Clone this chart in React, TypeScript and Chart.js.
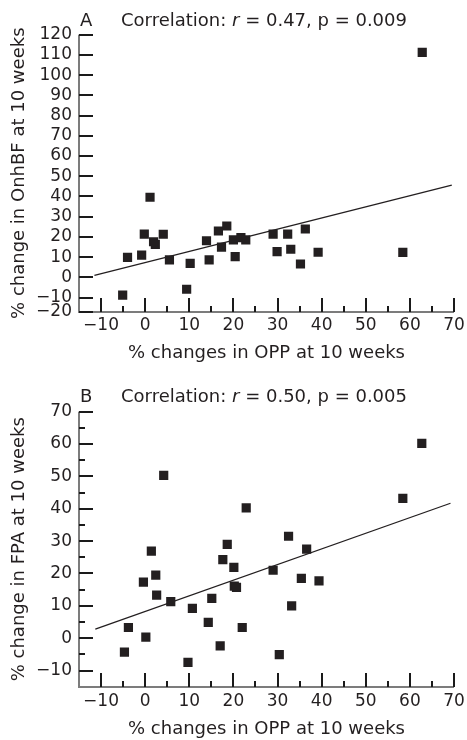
import React, { useEffect, useRef } from 'react';
import { Chart, registerables } from 'chart.js';

Chart.register(...registerables);

// ---------- Panel A data ----------
const OPP_A = [-5.1, -4.0, -0.8, -0.2, 1.1, 1.9, 2.3, 4.1, 5.5, 9.4, 10.2, 13.9, 14.5, 16.6, 17.3, 18.5, 20.0, 20.4, 21.7, 22.8, 29.0, 29.9, 32.3, 33.0, 35.2, 36.3, 39.2, 58.4, 62.8];
const ONHBF_A = [-8.8, 9.9, 11.0, 21.4, 39.6, 17.6, 16.3, 21.3, 8.6, -5.9, 6.9, 18.1, 8.6, 22.9, 14.9, 25.4, 18.5, 10.2, 19.6, 18.5, 21.4, 12.7, 21.4, 13.9, 6.6, 23.9, 12.4, 12.3, 111.3];
const FIT_X_A = [-11.5, 69.5];
const FIT_Y_A = [1.0, 45.6];
const Y_TICKS_A = [-20, -10, 0, 10, 20, 30, 40, 50, 60, 70, 80, 90, 100, 110, 120];
const Y_MINOR_A: number[] = [];
const LETTER_A = 'A';
const HEADER_A = ['Correlation: ', 'r', ' = 0.47, p = 0.009'];
const Y_TITLE_A = '% change in OnhBF at 10 weeks';

// ---------- Panel B data ----------
const OPP_B = [-4.7, -3.8, -0.4, 0.15, 1.4, 2.4, 2.6, 4.2, 5.8, 9.7, 10.7, 14.3, 15.1, 17.0, 17.6, 18.6, 20.1, 20.2, 20.7, 22.0, 22.9, 29.0, 30.4, 32.5, 33.2, 35.4, 36.6, 39.4, 58.4, 62.7];
const FPA_B = [-4.3, 3.3, 17.3, 0.3, 26.9, 19.5, 13.3, 50.3, 11.3, -7.5, 9.2, 4.9, 12.3, -2.4, 24.3, 29.0, 21.9, 16.1, 15.7, 3.3, 40.3, 21.0, -5.1, 31.5, 10.0, 18.5, 27.5, 17.7, 43.2, 60.2];
const FIT_X_B = [-11.3, 69.2];
const FIT_Y_B = [2.8, 41.7];
const Y_TICKS_B = [-10, 0, 10, 20, 30, 40, 50, 60, 70];
const Y_MINOR_B = [-5, 5, 15, 25, 35, 45, 55, 65];
const LETTER_B = 'B';
const HEADER_B = ['Correlation: ', 'r', ' = 0.50, p = 0.005'];
const Y_TITLE_B = '% change in FPA at 10 weeks';

// ---------- shared x axis ----------
const X_TICKS = [-10, 0, 10, 20, 30, 40, 50, 60, 70];
const X_MINOR = [-5, 5, 15, 25, 35, 45, 55, 65];
const X_TITLE = '% changes in OPP at 10 weeks';

const INK = '#231f20';
const AXIS = '#7c7c7c';
const TICK = '#1a1a1a';
const FONT = "'DejaVu Sans', sans-serif";

const fmt = (v: number) => (v < 0 ? '\u2212' + Math.abs(v) : String(v));

interface PanelProps {
  xs: number[];
  ys: number[];
  fitX: number[];
  fitY: number[];
  yTicks: number[];
  yMinor: number[];
  yMin: number;
  yMax: number;
  letter: string;
  header: string[];
  yTitle: string;
  padTop: number;
  areaBottom: number;
  headerY: number;
  xLabelPad: number;
  xTitlePad: number;
}

function makeAxesPlugin(p: PanelProps) {
  return {
    id: 'customAxes',
    afterDraw(chart: any) {
      const ctx: CanvasRenderingContext2D = chart.ctx;
      const xs = chart.scales.x;
      const ys = chart.scales.y;
      const { left, right, top, bottom } = chart.chartArea;
      const L = Math.round(left);
      const B = Math.round(bottom);
      ctx.save();
      // axis lines
      ctx.fillStyle = AXIS;
      ctx.fillRect(L - 1, top, 2, B - top + 1);
      ctx.fillRect(L - 1, B - 1, right - L + 1, 2);
      // inward tick marks
      ctx.fillStyle = TICK;
      X_TICKS.forEach((v) => {
        const px = Math.round(xs.getPixelForValue(v));
        ctx.fillRect(px - 1, B - 14, 2, 14);
      });
      X_MINOR.forEach((v) => {
        const px = Math.round(xs.getPixelForValue(v));
        ctx.fillRect(px - 1, B - 6, 2, 6);
      });
      p.yTicks.forEach((v) => {
        const py = Math.round(ys.getPixelForValue(Math.max(v, ys.min)));
        ctx.fillRect(L, py - 1, 14, 2);
      });
      p.yMinor.forEach((v) => {
        const py = Math.round(ys.getPixelForValue(v));
        ctx.fillRect(L, py - 1, 6, 2);
      });
      // header
      ctx.fillStyle = INK;
      ctx.textBaseline = 'middle';
      ctx.textAlign = 'left';
      ctx.font = `18px ${FONT}`;
      ctx.fillText(p.letter, left + 1, p.headerY);
      let x = left + 42;
      p.header.forEach((part, i) => {
        ctx.font = i === 1 ? `italic 18px ${FONT}` : `18px ${FONT}`;
        ctx.fillText(part, x, p.headerY);
        x += ctx.measureText(part).width;
      });
      ctx.restore();
    },
  };
}

function Panel(p: PanelProps) {
  const ref = useRef<HTMLCanvasElement | null>(null);
  useEffect(() => {
    if (!ref.current) return;
    const chart = new Chart(ref.current, {
      type: 'scatter',
      data: {
        datasets: [
          {
            data: p.xs.map((x, i) => ({ x, y: p.ys[i] })),
            pointStyle: 'rect',
            pointRadius: 6.5,
            pointHoverRadius: 6.5,
            backgroundColor: INK,
            borderWidth: 0,
          },
          {
            data: p.fitX.map((x, i) => ({ x, y: p.fitY[i] })),
            showLine: true,
            pointRadius: 0,
            borderColor: INK,
            borderWidth: 1.3,
            fill: false,
          },
        ],
      },
      options: {
        responsive: false,
        animation: false,
        events: [],
        layout: { padding: { top: p.padTop, right: 13, left: 0, bottom: 0 } },
        plugins: {
          legend: { display: false },
          tooltip: { enabled: false },
        },
        scales: {
          x: {
            type: 'linear',
            min: -15,
            max: 70,
            grid: { display: false, drawTicks: false },
            border: { display: false },
            afterBuildTicks: (s: any) => {
              s.ticks = X_TICKS.map((v) => ({ value: v }));
            },
            afterFit: (s: any) => {
              s.height = 370 - p.areaBottom;
              s.paddingLeft = 0;
              s.paddingRight = 0;
            },
            ticks: {
              autoSkip: false,
              maxRotation: 0,
              padding: p.xLabelPad,
              color: INK,
              font: { family: FONT, size: 17 },
              callback: (_v: any, i: number) => fmt(X_TICKS[i]),
            },
            title: {
              display: true,
              text: X_TITLE,
              color: INK,
              font: { family: FONT, size: 18 },
              padding: { top: 0, bottom: p.xTitlePad },
            },
          },
          y: {
            type: 'linear',
            min: p.yMin,
            max: p.yMax,
            grid: { display: false, drawTicks: false },
            border: { display: false },
            afterBuildTicks: (s: any) => {
              s.ticks = p.yTicks.map((v) => ({ value: Math.max(v, s.min) }));
            },
            afterFit: (s: any) => {
              s.width = 79;
              s.paddingTop = 0;
              s.paddingBottom = 0;
            },
            ticks: {
              autoSkip: false,
              padding: 7,
              color: INK,
              font: { family: FONT, size: 17 },
              callback: (_v: any, i: number) => fmt(p.yTicks[i]),
            },
            title: {
              display: true,
              text: p.yTitle,
              color: INK,
              font: { family: FONT, size: 18 },
              padding: { top: 9, bottom: 0 },
            },
          },
        },
      },
      plugins: [makeAxesPlugin(p)],
    });
    return () => chart.destroy();
  }, []);
  return <canvas ref={ref} width={467} height={370} style={{ display: 'block' }} />;
}

export default function App() {
  return (
    <div style={{ position: 'absolute', left: 0, top: 0, width: 467, height: 740, background: '#fff' }}>
      <Panel
        xs={OPP_A}
        ys={ONHBF_A}
        fitX={FIT_X_A}
        fitY={FIT_Y_A}
        yTicks={Y_TICKS_A}
        yMinor={Y_MINOR_A}
        yMin={-17}
        yMax={120}
        letter={LETTER_A}
        header={HEADER_A}
        yTitle={Y_TITLE_A}
        padTop={34.7}
        areaBottom={311.7}
        headerY={21}
        xLabelPad={3.5}
        xTitlePad={6}
      />
      <Panel
        xs={OPP_B}
        ys={FPA_B}
        fitX={FIT_X_B}
        fitY={FIT_Y_B}
        yTicks={Y_TICKS_B}
        yMinor={Y_MINOR_B}
        yMin={-15}
        yMax={70}
        letter={LETTER_B}
        header={HEADER_B}
        yTitle={Y_TITLE_B}
        padTop={41.7}
        areaBottom={316.7}
        headerY={27}
        xLabelPad={5}
        xTitlePad={0}
      />
    </div>
  );
}
